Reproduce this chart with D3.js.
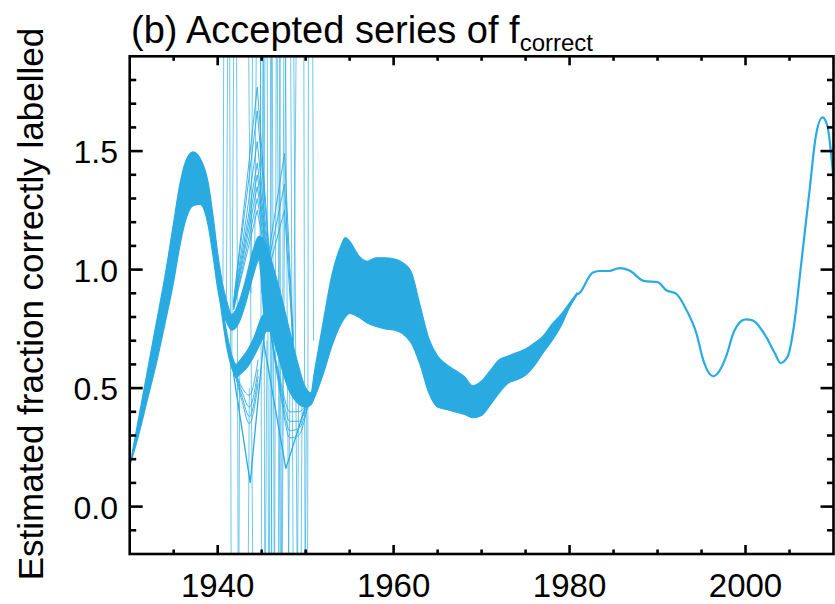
<!DOCTYPE html>
<html>
<head>
<meta charset="utf-8">
<script src="https://cdn.jsdelivr.net/npm/d3@7"></script>
<style>
  body { margin: 0; background: #fff; }
  text { font-family: "Liberation Sans", Arial, Helvetica, sans-serif; fill: #000; }
</style>
</head>
<body>
<div id="chart"></div>
<script>
// ---- data ----
// dense ensemble band (upper / lower envelope), 1930-1981
const bandYears = [1930, 1931, 1932, 1933, 1934, 1935, 1935.7, 1936.3, 1937.2, 1938.0, 1938.9, 1939.5, 1940, 1940.5, 1941, 1941.6, 1942.4, 1943.2, 1944, 1944.7, 1945.3, 1946, 1947, 1948, 1949, 1950, 1950.6, 1951, 1952, 1953, 1954, 1954.5, 1955, 1956, 1957, 1958, 1959, 1960, 1961, 1962, 1963, 1964, 1965, 1966, 1967, 1968, 1969, 1970, 1971, 1972, 1973, 1974, 1975, 1976, 1977, 1978, 1979, 1980, 1980.8];
const bandTop = [0.17, 0.37, 0.57, 0.77, 0.97, 1.20, 1.36, 1.45, 1.497, 1.47, 1.37, 1.22, 1.07, 0.95, 0.87, 0.81, 0.86, 0.96, 1.08, 1.14, 1.12, 1.05, 0.92, 0.77, 0.62, 0.50, 0.48, 0.57, 0.78, 0.98, 1.10, 1.135, 1.12, 1.06, 1.035, 1.05, 1.05, 1.045, 1.03, 0.99, 0.85, 0.71, 0.635, 0.60, 0.575, 0.55, 0.51, 0.53, 0.575, 0.62, 0.635, 0.65, 0.665, 0.69, 0.72, 0.77, 0.81, 0.86, 0.90];
const bandBottom = [0.17, 0.30, 0.45, 0.60, 0.77, 0.95, 1.10, 1.20, 1.27, 1.275, 1.19, 1.05, 0.92, 0.83, 0.78, 0.745, 0.775, 0.86, 0.97, 1.04, 0.80, 0.74, 0.62, 0.50, 0.44, 0.42, 0.43, 0.46, 0.56, 0.68, 0.77, 0.80, 0.815, 0.80, 0.775, 0.76, 0.75, 0.745, 0.73, 0.69, 0.60, 0.48, 0.42, 0.41, 0.40, 0.39, 0.375, 0.385, 0.43, 0.48, 0.52, 0.535, 0.555, 0.595, 0.65, 0.70, 0.76, 0.84, 0.89];

// lower branch of the ensemble in the 1940s
const branchYears = [1940.3, 1941.0, 1941.6, 1942.1, 1942.6, 1943.4, 1944.2, 1945.0, 1945.6, 1946.2];
const branchTop = [0.90, 0.74, 0.64, 0.60, 0.62, 0.66, 0.72, 0.80, 0.82, 0.80];
const branchBottom = [0.86, 0.68, 0.585, 0.545, 0.56, 0.59, 0.64, 0.70, 0.74, 0.74];

// single accepted series after the ensemble converges
const tailYears = [1980.8, 1981.1, 1982.6, 1983.4, 1984.5, 1985.7, 1986.8, 1988.5, 1990.0, 1991.0, 1992.1, 1993.25, 1994.4, 1995.3, 1996.3, 1997.0, 1997.8, 1998.7, 2000.0, 2000.8, 2002.3, 2003.3, 2004.0, 2004.8, 2005.5, 2006.3, 2007.25, 2008.0, 2008.75, 2009.3, 2010];
const tailValues = [0.895, 0.90, 0.987, 0.994, 0.994, 1.006, 0.996, 0.951, 0.947, 0.913, 0.899, 0.832, 0.733, 0.606, 0.55, 0.571, 0.634, 0.74, 0.79, 0.786, 0.719, 0.649, 0.606, 0.634, 0.761, 1.015, 1.325, 1.565, 1.642, 1.607, 1.38];

// members peaking above the band around 1945 / 1947
const tentYears = [1941.8, 1944.5, 1946.0];
const tentValues = [
  [0.86, 1.77, 1.00], [0.86, 1.67, 1.00], [0.85, 1.54, 0.98], [0.85, 1.45, 0.98],
  [0.84, 1.40, 0.96], [0.84, 1.35, 0.96], [0.83, 1.30, 0.95], [0.83, 1.25, 0.95]
];
const tent2Years = [1945.5, 1947.6, 1948.6];
const tent2Values = [[1.0, 1.49, 0.70], [0.98, 1.36, 0.68], [0.96, 1.25, 0.66]];

// members sagging below the band
const sagYears = [1941.9, 1942.8, 1943.6, 1944.6];
const sagValues = [[0.58, 0.50, 0.47, 0.62], [0.58, 0.48, 0.42, 0.58], [0.57, 0.46, 0.38, 0.55], [0.57, 0.44, 0.35, 0.52]];
const sag2Years = [1946.0, 1947.2, 1948.2, 1949.2, 1950.2];
const sag2Values = [[0.74, 0.52, 0.40, 0.40, 0.44], [0.74, 0.50, 0.36, 0.36, 0.43], [0.74, 0.48, 0.32, 0.33, 0.42], [0.74, 0.46, 0.29, 0.30, 0.42]];
const deepYears = [[1941.8, 1943.7, 1945.3], [1945.2, 1947.75, 1950.2]];
const deepValues = [[0.56, 0.10, 0.73], [0.70, 0.16, 0.45]];

// unstable members that run off the scale
const wildYears = [
  [1940.6, 1941.05, 1941.9, 1942.5],
  [1941.0, 1941.75, 1942.7, 1943.6],
  [1941.6, 1942.5, 1943.4, 1944.8, 1945.6],
  [1943.8, 1944.6, 1945.3, 1946.0],
  [1944.2, 1945.0, 1945.6, 1946.2],
  [1944.8, 1945.35, 1946.1, 1946.9, 1947.4, 1948.2],
  [1945.0, 1945.7, 1946.5, 1947.3, 1948.6, 1949.2],
  [1945.2, 1945.9, 1946.8, 1947.9, 1949.0, 1949.6],
  [1946.0, 1946.4, 1947.2, 1948.2, 1949.5, 1950.1],
  [1948.6, 1949.6, 1950.1, 1950.5, 1950.9]
];
const wildValues = [
  [0.95, 6, -5, 0.55],
  [0.85, 7, -5, 0.50],
  [0.60, 6, 2.5, -4, 0.70],
  [0.90, 6, -5, 0.80],
  [1.00, 5, -4, 0.70],
  [1.00, 6, -5, 5, -4, 0.50],
  [0.90, 6, -5, 4.5, -3.5, 0.50],
  [0.90, 5, -4, 5, -3.5, 0.50],
  [0.80, 4.5, -1, 4.5, -3, 0.50],
  [0.50, 5, -3, 6, 0.70]
];

const xMajor = [1940, 1960, 1980, 2000];
const yMajor = [0.0, 0.5, 1.0, 1.5];

// ---- layout ----
const W = 835, H = 604;
const blue = "#29abe2";

const x = d3.scaleLinear().domain([1930, 2010]).range([129.7, 833.5]);
const y = d3.scaleLinear().domain([-0.2, 1.9]).range([554, 56.3]);

const svg = d3.select("#chart").append("svg")
    .attr("width", W)
    .attr("height", H);

svg.append("clipPath").attr("id", "plotclip")
  .append("rect")
    .attr("x", x(1930)).attr("y", y(1.9))
    .attr("width", x(2010) - x(1930)).attr("height", y(-0.2) - y(1.9));

const plot = svg.append("g").attr("clip-path", "url(#plotclip)");

const area = d3.area()
    .x(d => x(d[0]))
    .y0(d => y(d[2]))
    .y1(d => y(d[1]))
    .curve(d3.curveMonotoneX);

const smooth = d3.line()
    .x(d => x(d[0]))
    .y(d => y(d[1]))
    .curve(d3.curveMonotoneX);

const straight = d3.line()
    .x(d => x(d[0]))
    .y(d => y(d[1]));

// thin member lines first
function drawMembers(yrs, vals, gen, w, op) {
  vals.forEach((v, i) => {
    const ys = Array.isArray(yrs[0]) ? yrs[i] : yrs;
    plot.append("path")
        .attr("d", gen(ys.map((t, j) => [t, v[j]])))
        .attr("fill", "none")
        .attr("stroke", blue)
        .attr("stroke-width", w)
        .attr("stroke-opacity", op);
  });
}

drawMembers(wildYears, wildValues, straight, 0.9, 0.75);
drawMembers(tentYears, tentValues, straight, 1, 0.9);
drawMembers(tent2Years, tent2Values, straight, 1, 0.9);
drawMembers(sagYears, sagValues, smooth, 1, 0.9);
drawMembers(sag2Years, sag2Values, smooth, 1, 0.9);
drawMembers(deepYears, deepValues, straight, 1.3, 1);

// dense band
plot.append("path")
    .attr("d", area(bandYears.map((t, i) => [t, bandTop[i], bandBottom[i]])))
    .attr("fill", blue)
    .attr("stroke", blue)
    .attr("stroke-width", 1.2);

plot.append("path")
    .attr("d", area(branchYears.map((t, i) => [t, branchTop[i], branchBottom[i]])))
    .attr("fill", blue)
    .attr("stroke", blue)
    .attr("stroke-width", 1.2);

plot.append("path")
    .attr("d", smooth(tailYears.map((t, i) => [t, tailValues[i]])))
    .attr("fill", "none")
    .attr("stroke", blue)
    .attr("stroke-width", 2.2);

// ---- axes box with inward ticks ----
const axes = svg.append("g").attr("stroke", "#000").attr("stroke-width", 2.6);
const x0 = x(1930), x1 = x(2010), y0 = y(-0.2), y1 = y(1.9);

axes.append("rect")
    .attr("x", x0).attr("y", y1)
    .attr("width", x1 - x0).attr("height", y0 - y1)
    .attr("fill", "none");

d3.range(1935, 2010, 5).forEach(t => {
  const len = xMajor.includes(t) ? 9 : 4.5;
  axes.append("line").attr("x1", x(t)).attr("x2", x(t)).attr("y1", y0).attr("y2", y0 - len);
  axes.append("line").attr("x1", x(t)).attr("x2", x(t)).attr("y1", y1).attr("y2", y1 + len);
});

d3.range(-1, 19).forEach(k => {
  const v = k / 10;
  const len = (k % 5 === 0) ? 13 : 6.5;
  axes.append("line").attr("x1", x0).attr("x2", x0 + len).attr("y1", y(v)).attr("y2", y(v));
  axes.append("line").attr("x1", x1).attr("x2", x1 - len).attr("y1", y(v)).attr("y2", y(v));
});

svg.selectAll(".xlab")
  .data(xMajor)
  .enter().append("text")
    .attr("x", d => x(d))
    .attr("y", 597)
    .attr("text-anchor", "middle")
    .attr("font-size", "33px")
    .text(d => d);

svg.selectAll(".ylab")
  .data(yMajor)
  .enter().append("text")
    .attr("x", 118)
    .attr("y", d => y(d) + 12)
    .attr("text-anchor", "end")
    .attr("font-size", "32px")
    .text(d => d.toFixed(1));

svg.append("text")
    .attr("transform", "translate(43,304) rotate(-90)")
    .attr("text-anchor", "middle")
    .attr("font-size", "35px")
    .text("Estimated fraction correctly labelled");

const title = svg.append("text")
    .attr("x", 131)
    .attr("y", 43)
    .attr("font-size", "38px")
    .text("(b) Accepted series of f");
title.append("tspan")
    .attr("dy", 8)
    .attr("font-size", "24px")
    .text("correct");
</script>
</body>
</html>
